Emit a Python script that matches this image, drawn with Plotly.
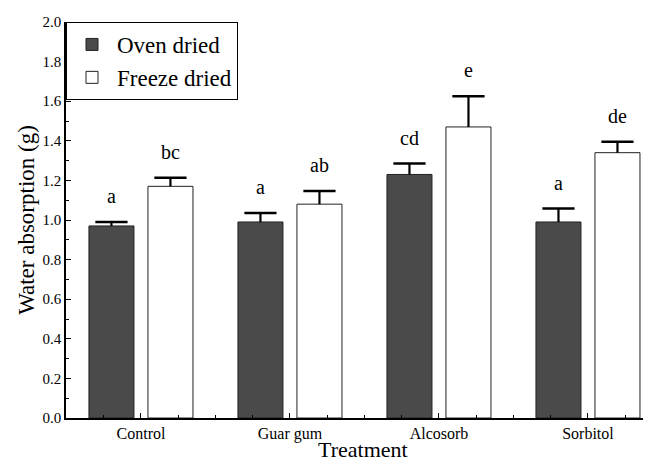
import plotly.graph_objects as go

categories = ["Control", "Guar gum", "Alcosorb", "Sorbitol"]
oven = [0.97, 0.99, 1.23, 0.99]
oven_err = [0.02, 0.045, 0.055, 0.068]
freeze = [1.17, 1.08, 1.47, 1.34]
freeze_err = [0.043, 0.066, 0.155, 0.055]
oven_letters = ["a", "a", "cd", "a"]
freeze_letters = ["bc", "ab", "e", "de"]

FONT = "Liberation Serif, Tinos, Times New Roman, serif"
xpos = list(range(len(categories)))
off = 0.198  # half-distance between grouped bar centres (category units)

fig = go.Figure()
fig.add_trace(go.Bar(
    x=xpos, y=oven, name="Oven dried",
    marker=dict(color="#4a4a4a", line=dict(color="#222222", width=1)),
    error_y=dict(type="data", symmetric=False, array=oven_err,
                 arrayminus=[0] * len(oven), color="black", thickness=2.2, width=0),
))
fig.add_trace(go.Bar(
    x=xpos, y=freeze, name="Freeze dried",
    marker=dict(color="white", line=dict(color="#222222", width=1)),
    error_y=dict(type="data", symmetric=False, array=freeze_err,
                 arrayminus=[0] * len(freeze), color="black", thickness=2.2, width=0),
))

# error bar caps (top only)
cap_x = [i - off for i in xpos] + [i + off for i in xpos]
cap_y = [v + e for v, e in zip(oven, oven_err)] + [v + e for v, e in zip(freeze, freeze_err)]
fig.add_trace(go.Scatter(
    x=cap_x, y=cap_y, mode="markers", showlegend=False, hoverinfo="skip",
    marker=dict(symbol="line-ew", size=23, color="black", line=dict(color="black", width=2.5)),
))

for i in xpos:
    fig.add_annotation(x=i - off, y=oven[i] + oven_err[i], text=oven_letters[i],
                       showarrow=False, yanchor="bottom", yshift=13,
                       font=dict(family=FONT, size=20, color="black"))
    fig.add_annotation(x=i + off, y=freeze[i] + freeze_err[i], text=freeze_letters[i],
                       showarrow=False, yanchor="bottom", yshift=13,
                       font=dict(family=FONT, size=20, color="black"))

# x-axis title
fig.add_annotation(x=0.5, y=0, xref="paper", yref="paper", text="Treatment",
                   showarrow=False, xanchor="center", yanchor="top", yshift=-17, xshift=4,
                   font=dict(family=FONT, size=22, color="black"))

# page body has an 8px margin; size the figure so it ends at the window edge
fig.update_layout(
    width=643, height=454,
    margin=dict(l=58, r=0, t=14, b=44, autoexpand=False),
    paper_bgcolor="white", plot_bgcolor="white",
    barmode="group", bargap=0.208, bargroupgap=0.237,
    font=dict(family=FONT, color="black"),
    showlegend=True,
    legend=dict(x=0, y=1, xanchor="left", yanchor="top",
                bordercolor="black", borderwidth=1, bgcolor="white",
                font=dict(family=FONT, size=23, color="black"),
                itemwidth=40, tracegroupgap=0),
)
fig.update_xaxes(
    range=[-0.503, 3.423], automargin=False,
    tickmode="array", tickvals=xpos, ticktext=categories,
    tickfont=dict(family=FONT, size=16, color="black"),
    ticks="inside", ticklen=5, tickcolor="black",
    minor=dict(ticks="inside", ticklen=3, dtick=0.25, tick0=0, tickcolor="black"),
    showline=True, linecolor="black", linewidth=1.5,
    showgrid=False, zeroline=False,
)
fig.update_yaxes(
    range=[0, 2], dtick=0.2, tickformat=".1f", automargin=False,
    tickfont=dict(family=FONT, size=15, color="black"),
    ticks="inside", ticklen=5, tickcolor="black",
    minor=dict(ticks="inside", ticklen=3, dtick=0.1, tickcolor="black"),
    showline=True, linecolor="black", linewidth=1.5,
    showgrid=False, zeroline=False,
    title=dict(text="Water absorption (g)", font=dict(family=FONT, size=23, color="black"), standoff=1),
)

fig.write_html("out.html")
